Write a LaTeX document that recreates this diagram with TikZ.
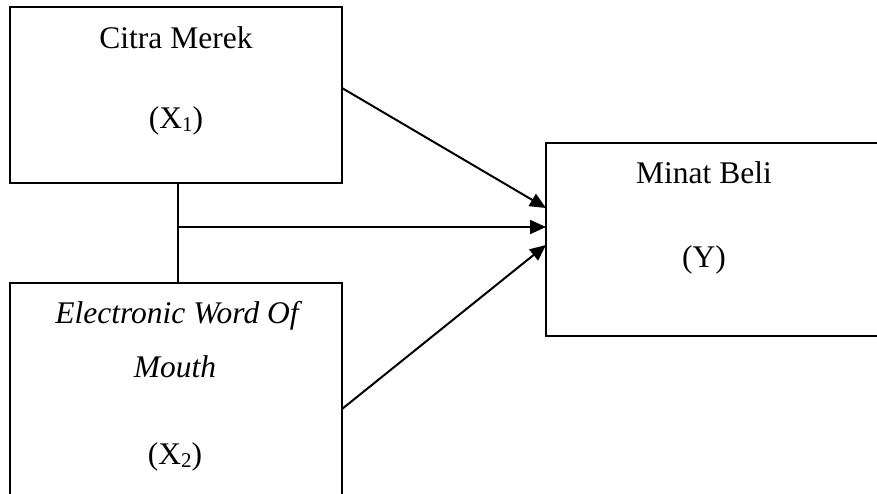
\documentclass[tikz,border=0pt]{standalone}
\usepackage{fontspec}
\setmainfont{Liberation Serif}
\usetikzlibrary{arrows.meta}
\tikzset{
  box/.style={draw=black, line width=2pt, rectangle, inner sep=0pt, outer sep=0pt},
  txt/.style={anchor=base, inner sep=0pt, font=\fontsize{31.5}{36}\selectfont},
  conn/.style={line width=2pt, draw=black},
  arr/.style={conn, -{Triangle[length=16pt,width=14pt]}}
}
\newcommand{\mysub}[1]{\raisebox{-0.12em}{\fontsize{21}{24}\selectfont #1}}
\begin{document}
\begin{tikzpicture}[x=1pt,y=-1pt]
\clip (0,0) rectangle (877,493);
\fill[white] (0,0) rectangle (877,493);
\node[box, minimum width=332pt, minimum height=176pt] (b1) at (176,95) {};
\node[box, minimum width=332pt, minimum height=222pt] (b2) at (176,394) {};
\node[box, minimum width=344pt, minimum height=193pt] (b3) at (718,239.5) {};
\node[txt] (t1) at (176,48) {Citra Merek};
\node[txt] (t2) at (176,128) {(X\mysub{1})};
\node[txt] (t3) at (177,323) {\itshape Electronic Word Of};
\node[txt] (t4) at (175,377) {\itshape Mouth};
\node[txt] (t5) at (175,464) {(X\mysub{2})};
\node[txt] (t6) at (704,183) {Minat Beli};
\node[txt] (t7) at (704,267) {(Y)};
\coordinate (j) at (178,227);
\draw[conn] (b1.south -| j) -- (b2.north -| j);
\draw[arr] (j) -- ([yshift=12.5pt]b3.west);
\draw[arr] ([yshift=7pt]b1.east) -- ([yshift=31.5pt]b3.west);
\draw[arr] ([yshift=-15pt]b2.east) -- ([yshift=-5.5pt]b3.west);
\end{tikzpicture}
\end{document}
